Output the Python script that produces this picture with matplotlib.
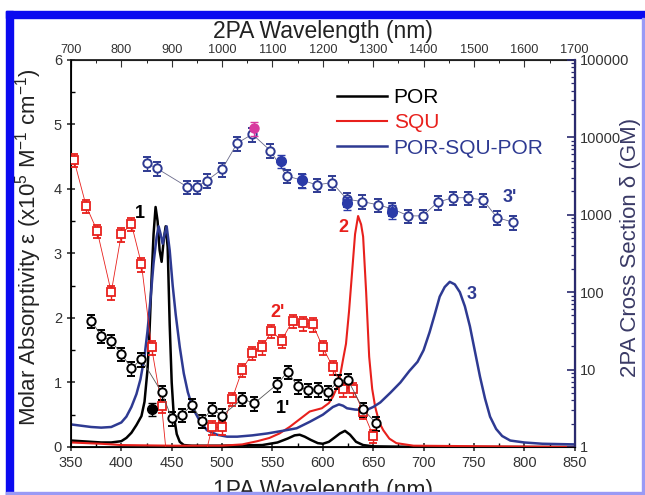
import numpy as np
import matplotlib
matplotlib.use('Agg')
import matplotlib.pyplot as plt
from matplotlib.ticker import MultipleLocator, FuncFormatter, LogLocator
from matplotlib.patches import Rectangle

plt.rcParams['font.family'] = ['Liberation Sans', 'DejaVu Sans']
plt.rcParams['mathtext.fontset'] = 'custom'
plt.rcParams['mathtext.rm'] = 'Liberation Sans'
plt.rcParams['mathtext.default'] = 'regular'

# 1PA absorption spectra (x10^5 M-1 cm-1)
por_wl = [350, 360, 370, 380, 390, 400, 405, 410, 415, 420, 423, 426, 428, 430, 432, 434, 436,
          438, 440, 442, 444, 446, 448, 450, 452, 455, 458, 462, 470, 500, 540, 555, 565, 572,
          577, 582, 588, 595, 600, 606, 612, 617, 622, 627, 633, 640, 650, 700, 850]
por_eps = [0.10, 0.09, 0.08, 0.07, 0.07, 0.09, 0.14, 0.22, 0.34, 0.48, 0.70, 1.20, 1.80, 2.60,
           3.30, 3.72, 3.50, 3.05, 2.87, 3.20, 3.42, 3.10, 1.90, 1.00, 0.50, 0.20, 0.08, 0.03,
           0.02, 0.02, 0.03, 0.07, 0.13, 0.18, 0.19, 0.16, 0.11, 0.06, 0.05, 0.08, 0.15, 0.21,
           0.25, 0.19, 0.08, 0.03, 0.01, 0.0, 0.0]

squ_wl = [350, 380, 400, 450, 500, 520, 535, 547, 557, 567, 577, 587, 599, 606, 610, 614, 617,
          620, 623, 626, 629, 632, 635, 638, 640, 643, 646, 649, 652, 656, 660, 666, 673, 690, 850]
squ_eps = [0.07, 0.05, 0.03, 0.02, 0.02, 0.04, 0.09, 0.14, 0.21, 0.31, 0.43, 0.55, 0.60, 0.68,
           0.78, 0.92, 1.09, 1.35, 1.60, 2.10, 2.70, 3.30, 3.58, 3.45, 3.26, 2.40, 1.40, 0.90,
           0.62, 0.38, 0.26, 0.13, 0.06, 0.02, 0.0]

tri_wl = [350, 360, 370, 380, 390, 400, 405, 410, 415, 419, 423, 426, 429, 432, 435, 437, 439,
          441, 443, 445, 448, 451, 454, 458, 462, 466, 471, 478, 485, 495, 505, 515, 530, 545,
          560, 574, 587, 600, 610, 616, 620, 624, 632, 643, 650, 657, 667, 677, 686, 694, 700,
          706, 711, 716, 721, 726, 731, 736, 741, 746, 751, 756, 761, 766, 772, 778, 786, 800,
          818, 850]
tri_eps = [0.35, 0.33, 0.31, 0.30, 0.31, 0.38, 0.47, 0.62, 0.82, 1.05, 1.40, 1.80, 2.30, 2.85,
           3.25, 3.42, 3.30, 3.15, 3.30, 3.42, 3.05, 2.50, 2.05, 1.55, 1.14, 0.85, 0.60, 0.40,
           0.26, 0.19, 0.16, 0.16, 0.18, 0.21, 0.25, 0.29, 0.39, 0.50, 0.62, 0.66, 0.64, 0.60,
           0.58, 0.57, 0.62, 0.69, 0.84, 1.00, 1.18, 1.32, 1.50, 1.78, 2.05, 2.33, 2.48, 2.56,
           2.52, 2.40, 2.18, 1.87, 1.48, 1.09, 0.75, 0.47, 0.28, 0.17, 0.10, 0.07, 0.05, 0.04]

# 2PA cross sections (GM) vs 2PA wavelength (nm)
squ2_wl = [706, 730, 752, 780, 800, 820, 840, 860, 880, 900, 960, 980, 1000, 1020, 1040, 1060,
           1080, 1098, 1118, 1140, 1160, 1180, 1200, 1220, 1240, 1260, 1280, 1300]
squ2_gm = [5100, 1310, 620, 100, 560, 760, 230, 19.4, 3.4, 0.16, 0.5, 1.8, 1.8, 4.2, 9.9, 16.5,
           19.4, 31.8, 23.6, 42.8, 39.6, 38.5, 19.4, 10.7, 5.6, 5.6, 2.86, 1.39]

por2_wl = [740, 760, 780, 800, 820, 840, 880, 900, 920, 940, 960, 980, 1000, 1040, 1064, 1110,
           1130, 1150, 1170, 1190, 1210, 1230, 1250, 1280, 1306]
por2_gm = [42.8, 27.4, 23.4, 15.9, 10.4, 13.6, 5.1, 2.35, 2.59, 3.49, 2.17, 3.1, 2.55, 4.17,
           3.67, 6.5, 9.4, 6.1, 5.45, 5.6, 5.1, 7.0, 7.3, 3.07, 2.02]
por2_fill_wl = [860]
por2_fill_gm = [3.1]

tri2_wl = [850, 870, 930, 950, 970, 1000, 1030, 1060, 1096, 1128, 1158, 1188, 1218, 1248, 1278,
           1310, 1338, 1370, 1398, 1428, 1458, 1488, 1518, 1546, 1578]
tri2_gm = [4630, 3990, 2306, 2306, 2760, 3870, 8400, 10970, 6730, 3170, 2800, 2430, 2600, 1585,
           1480, 1340, 1190, 966, 966, 1450, 1660, 1660, 1550, 918, 800]
tri2_fill_wl = [1116, 1158, 1248, 1338]
tri2_fill_gm = [4960, 2800, 1430, 1097]
yag_wl = [1064]
yag_gm = [13100]

black = '#000000'
red = '#e8201c'
blue = '#2e3a92'
navy = '#2a2a6e'
tick_c = '#333333'

fig = plt.figure(figsize=(6.45, 4.95), dpi=100)
ax = fig.add_axes([0.110, 0.097, 0.781, 0.782])

ax.plot(por_wl, por_eps, color=black, lw=1.8, label='POR', zorder=3)
ax.plot(squ_wl, squ_eps, color=red, lw=1.5, label='SQU', zorder=3)
ax.plot(tri_wl, tri_eps, color=blue, lw=1.8, label='POR-SQU-POR', zorder=3)

ax.set_xlim(350, 850)
ax.set_ylim(0, 6)
ax.xaxis.set_major_locator(MultipleLocator(50))
ax.xaxis.set_minor_locator(MultipleLocator(25))
ax.yaxis.set_major_locator(MultipleLocator(1))
ax.yaxis.set_minor_locator(MultipleLocator(0.5))
ax.tick_params(which='major', direction='inout', length=6, width=1.2, labelsize=10.5,
               colors=tick_c, top=False, right=False)
ax.tick_params(which='minor', direction='in', length=3, width=1.0, top=False, right=False)
for s in ['left', 'bottom']:
    ax.spines[s].set_linewidth(1.3)
ax.spines['top'].set_linewidth(1.3)
ax.spines['top'].set_color('#222222')

ax.set_ylabel('Molar Absorptivity ε (x10$^{5}$ M$^{-1}$ cm$^{-1}$)', fontsize=16,
              color='#222222', va='center')
ax.yaxis.set_label_coords(-0.085, 0.515)
ax.set_xlabel('1PA Wavelength (nm)', fontsize=16.5, color='#222222')
ax.xaxis.set_label_coords(0.5, -0.082)

leg = ax.legend(loc='upper left', bbox_to_anchor=(0.50, 0.965), frameon=False, fontsize=15,
                handlelength=2.4, handletextpad=0.3, labelspacing=0.3, borderpad=0.2)
for txt, c in zip(leg.get_texts(), [black, red, blue]):
    txt.set_color(c)

# 2PA on log right axis, plotted at half the 2PA wavelength
ax2 = ax.twinx()
ax2.set_yscale('log')
ax2.set_ylim(1, 1e5)
err = dict(capsize=3, elinewidth=1.0, capthick=1.0)

def half(w):
    return np.array(w) / 2.0

g = np.array(squ2_gm)
ax2.errorbar(half(squ2_wl), g, yerr=0.2 * g, fmt='s-', color=red, lw=0.6, ms=5.5,
             mfc='white', mec=red, mew=1.3, ecolor=red, zorder=4, **err)
g = np.array(por2_gm)
ax2.errorbar(half(por2_wl), g, yerr=0.2 * g, fmt='o-', color='#555555', lw=0.6, ms=6,
             mfc='white', mec=black, mew=1.4, ecolor=black, zorder=4, **err)
g = np.array(por2_fill_gm)
ax2.errorbar(half(por2_fill_wl), g, yerr=0.2 * g, fmt='o', ms=7, color=black, ecolor=black,
             zorder=4, **err)
g = np.array(tri2_gm)
ax2.errorbar(half(tri2_wl), g, yerr=0.2 * g, fmt='o-', color='#6a6a8a', lw=0.6, ms=6,
             mfc='white', mec=blue, mew=1.4, ecolor=blue, zorder=4, **err)
g = np.array(tri2_fill_gm)
ax2.errorbar(half(tri2_fill_wl), g, yerr=0.2 * g, fmt='o', ms=7, color='#2a3aa8',
             ecolor='#2a3aa8', zorder=5, **err)
g = np.array(yag_gm)
ax2.errorbar(half(yag_wl), g, yerr=0.2 * g, fmt='o', ms=6.5, color='#d8389e',
             ecolor='#d8389e', zorder=5, **err)

ax2.yaxis.set_major_formatter(FuncFormatter(lambda v, p: f'{v:g}'))
ax2.yaxis.set_minor_locator(LogLocator(base=10, subs=np.arange(2, 10)))
ax2.tick_params(which='major', direction='in', length=6, width=1.2, labelsize=10.5,
                colors=navy, labelcolor=tick_c)
ax2.tick_params(which='minor', direction='in', length=3, width=0.9, colors=navy)
ax2.spines['right'].set_color(navy)
ax2.spines['right'].set_linewidth(1.6)
ax2.spines['top'].set_visible(False)
ax2.set_ylabel('2PA Cross Section δ (GM)', fontsize=16, color='#3a3a66', rotation=90,
               va='center')
ax2.yaxis.set_label_coords(1.11, 0.516)

secax = ax.secondary_xaxis('top', functions=(lambda x: 2 * x, lambda x: x / 2))
secax.set_xticks(np.arange(700, 1800, 100))
secax.xaxis.set_minor_locator(MultipleLocator(50))
secax.tick_params(which='major', direction='in', length=5, labelsize=9.2, colors=tick_c, pad=3)
secax.tick_params(which='minor', direction='in', length=2.5)
secax.set_xlabel('2PA Wavelength (nm)', fontsize=16.5, color='#222222', labelpad=4)

# annotations
ax.text(423, 3.62, '1', fontsize=13, fontweight='bold', color=black, ha='right', va='center')
ax.text(553, 0.6, "1'", fontsize=13, fontweight='bold', color=black, ha='left', va='center')
ax.text(548, 2.08, "2'", fontsize=13, fontweight='bold', color=red, ha='left', va='center')
ax.text(625, 3.4, '2', fontsize=13, fontweight='bold', color=red, ha='right', va='center')
ax.text(743, 2.36, '3', fontsize=13, fontweight='bold', color=blue, ha='left', va='center')
ax.text(778, 3.86, "3'", fontsize=13, fontweight='bold', color=blue, ha='left', va='center')

# page border
W, H = 645.0, 495.0
fig.add_artist(Rectangle((6 / W, 0), 7 / W, 1 - 11 / H, transform=fig.transFigure,
                         color='#0a0af0', zorder=10))
fig.add_artist(Rectangle((6 / W, 1 - 18 / H), 1 - 6 / W, 7 / H, transform=fig.transFigure,
                         color='#0a0af0', zorder=10))
fig.add_artist(Rectangle((642 / W, 0), 2 / W, 1 - 18 / H, transform=fig.transFigure,
                         color='#9a9af5', zorder=10))
fig.add_artist(Rectangle((6 / W, 1 / H), 1 - 6 / W, 2 / H, transform=fig.transFigure,
                         color='#9a9af5', zorder=10))

fig.savefig('out.png', dpi=100)
